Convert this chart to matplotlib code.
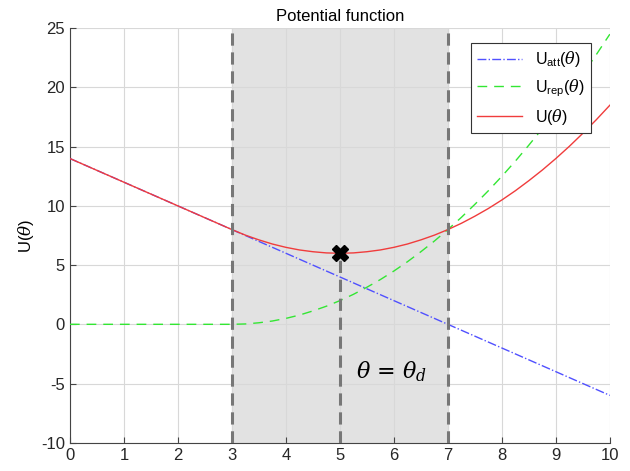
import numpy as np
import matplotlib
matplotlib.use("Agg")
import matplotlib.pyplot as plt

plt.rcParams['font.family'] = ['Liberation Sans', 'DejaVu Sans']
plt.rcParams['mathtext.fontset'] = 'custom'
plt.rcParams['mathtext.rm'] = 'Liberation Sans'
plt.rcParams['mathtext.it'] = 'DejaVu Serif:italic'
plt.rcParams['axes.unicode_minus'] = False

# values, step 0.25 in theta
theta = [0.0, 0.25, 0.5, 0.75, 1.0, 1.25, 1.5, 1.75, 2.0, 2.25, 2.5, 2.75,
         3.0, 3.25, 3.5, 3.75, 4.0, 4.25, 4.5, 4.75, 5.0, 5.25, 5.5, 5.75,
         6.0, 6.25, 6.5, 6.75, 7.0, 7.25, 7.5, 7.75, 8.0, 8.25, 8.5, 8.75,
         9.0, 9.25, 9.5, 9.75, 10.0]
u_att = [14, 13.5, 13, 12.5, 12, 11.5, 11, 10.5, 10, 9.5, 9, 8.5,
         8, 7.5, 7, 6.5, 6, 5.5, 5, 4.5, 4, 3.5, 3, 2.5,
         2, 1.5, 1, 0.5, 0, -0.5, -1, -1.5, -2, -2.5, -3, -3.5,
         -4, -4.5, -5, -5.5, -6]
u_rep = [0, 0, 0, 0, 0, 0, 0, 0, 0, 0, 0, 0,
         0, 0.03, 0.13, 0.28, 0.5, 0.78, 1.13, 1.53, 2.0, 2.53, 3.13, 3.78,
         4.5, 5.28, 6.13, 7.03, 8.0, 9.03, 10.13, 11.28, 12.5, 13.78, 15.13, 16.53,
         18.0, 19.53, 21.13, 22.78, 24.5]
u_tot = [14, 13.5, 13, 12.5, 12, 11.5, 11, 10.5, 10, 9.5, 9, 8.5,
         8, 7.53, 7.13, 6.78, 6.5, 6.28, 6.13, 6.03, 6.0, 6.03, 6.13, 6.28,
         6.5, 6.78, 7.13, 7.53, 8.0, 8.53, 9.13, 9.78, 10.5, 11.28, 12.13, 13.03,
         14.0, 15.03, 16.13, 17.28, 18.5]

region = [3, 7]      # shaded band
theta_d = 5
u_min = 6

fig = plt.figure(figsize=(6.3, 4.71), dpi=100)
ax = fig.add_axes([0.111, 0.06, 0.857, 0.88])

ax.axvspan(region[0], region[1], color='#e2e2e2', zorder=0)
ax.grid(True, color='#d8d8d8', linewidth=0.8, zorder=1)
ax.set_axisbelow(True)

ax.plot(theta, u_att, color='#5050ff', linestyle='-.', linewidth=1, label=r'U$_{\mathrm{att}}$($\theta$)', zorder=3)
ax.plot(theta, u_rep, color='#33e633', linestyle=(0, (7, 5)), linewidth=1, label=r'U$_{\mathrm{rep}}$($\theta$)', zorder=3)
ax.plot(theta, u_tot, color='#f03c3c', linestyle='-', linewidth=1, label=r'U($\theta$)', zorder=3)

for xv in region:
    ax.axvline(xv, color='#777777', linestyle=(0, (4, 2.2)), linewidth=2.2, zorder=4)
ax.plot([theta_d, theta_d], [-10, u_min], color='#777777', linestyle=(0, (4, 2.2)), linewidth=2.2, zorder=4)
ax.plot([theta_d], [u_min], marker='X', color='black', markersize=11, zorder=5, linestyle='none')

ax.text(5.3, -4.6, r'$\theta$ = $\theta_d$', fontsize=16, color='black',
        family=['DejaVu Serif'])

ax.set_xlim(0, 10)
ax.set_ylim(-10, 25)
ax.set_xticks(np.arange(0, 11, 1))
ax.set_yticks(np.arange(-10, 26, 5))
ax.set_title('Potential function', fontsize=12, pad=5)
ax.set_ylabel(r'U($\theta$)', fontsize=12)

for s in ['top', 'right']:
    ax.spines[s].set_visible(False)
for s in ['left', 'bottom']:
    ax.spines[s].set_color('#444444')
ax.tick_params(direction='in', length=4, color='#444444', labelsize=12,
               labelcolor='#262626')

leg = ax.legend(loc='upper right', fontsize=11.5, fancybox=False, framealpha=1,
                edgecolor='#333333', handlelength=2.8, borderaxespad=0,
                bbox_to_anchor=(0.965, 0.965), labelspacing=0.5)
leg.get_frame().set_linewidth(0.8)

fig.savefig('out.png', dpi=100)
